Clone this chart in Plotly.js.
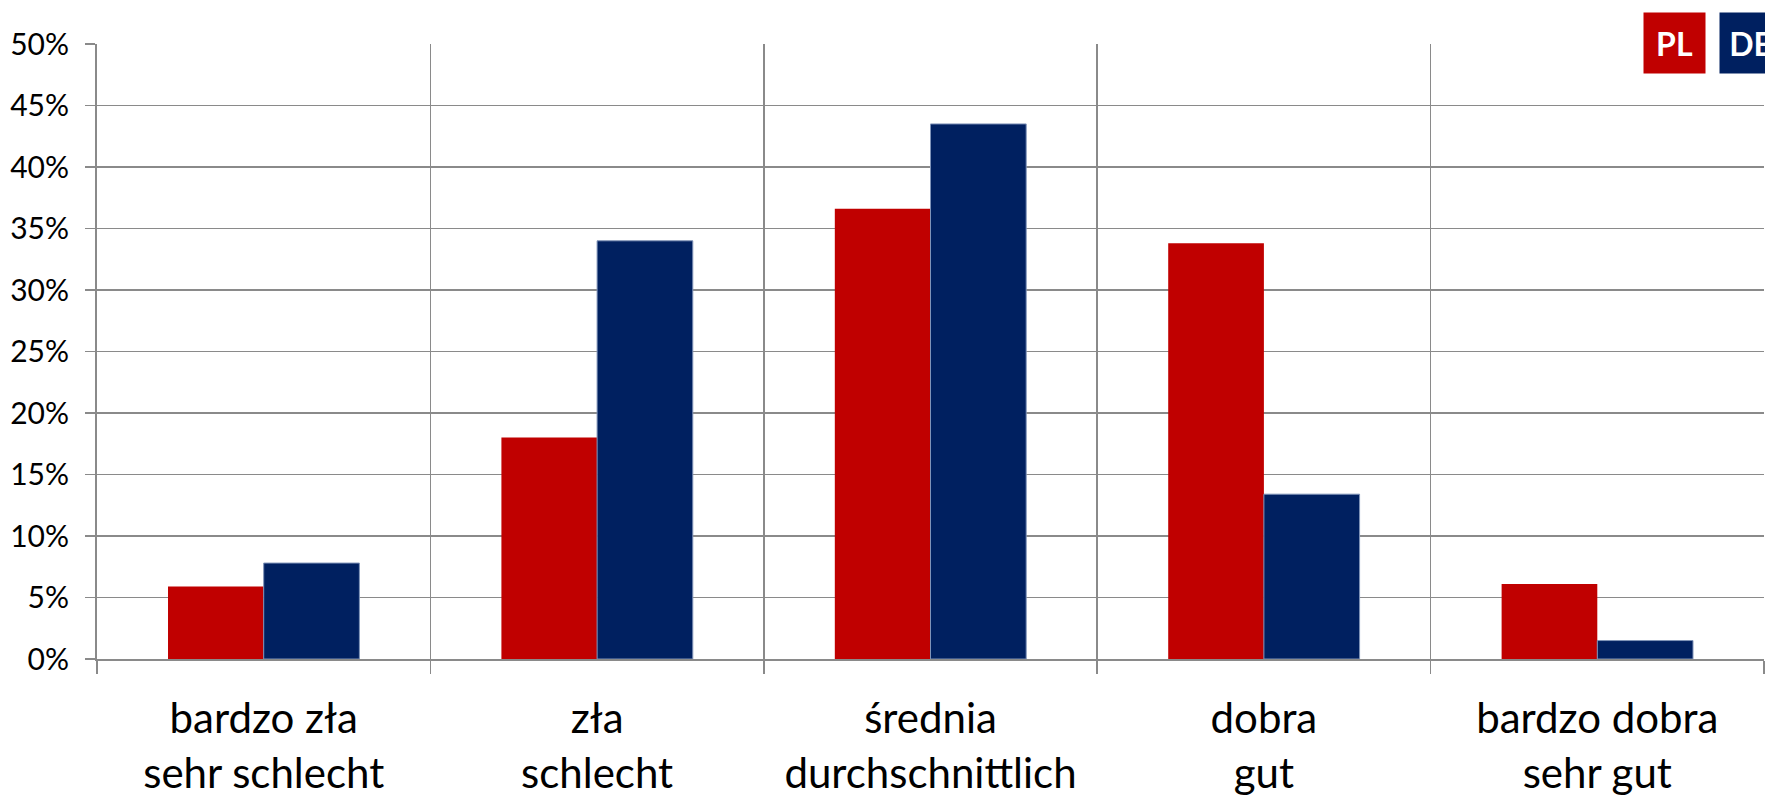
<!DOCTYPE html>
<html>
<head>
<meta charset="utf-8">
<script src="https://cdn.plot.ly/plotly-3.0.1.min.js"></script>
<style>html,body{margin:0;padding:0;background:#fff;}#chart{width:1765px;height:800px;}</style>
</head>
<body>
<div id="chart"></div>
<script>
const categories = ["bardzo zła<br>sehr schlecht", "zła<br>schlecht", "średnia<br>durchschnittlich", "dobra<br>gut", "bardzo dobra<br>sehr gut"];
const seriesNames = ["PL", "DE"];
const plValues = [5.9, 18.0, 36.6, 33.8, 6.1];
const deValues = [7.8, 34.0, 43.5, 13.4, 1.5];
const yTicks = [0, 5, 10, 15, 20, 25, 30, 35, 40, 45, 50];

const red = "#C00000", blue = "#002060";
const font = "Lato, 'Open Sans', sans-serif";

const traces = [
  {type: "bar", name: seriesNames[0], x: categories, y: plValues, marker: {color: red, line: {width: 0}}},
  {type: "bar", name: seriesNames[1], x: categories, y: deValues, marker: {color: blue, line: {color: "#7f93b8", width: 1}}}
];

const layout = {
  width: 1765, height: 800,
  margin: {l: 97, r: 1, t: 44, b: 141},
  paper_bgcolor: "#fff", plot_bgcolor: "#fff",
  barmode: "group", bargap: 0.426, bargroupgap: 0,
  showlegend: false,
  font: {family: font, color: "#000"},
  xaxis: {
    type: "category", range: [-0.5, 4.5], fixedrange: true,
    tickson: "boundaries", ticks: "outside", ticklen: 13, tickcolor: "#8a8a8a", tickwidth: 1.5,
    showgrid: true, gridcolor: "#8a8a8a", gridwidth: 1.5,
    showline: true, linecolor: "#8a8a8a", linewidth: 2,
    tickfont: {size: 42, family: font, color: "#000"},
    ticklabelstandoff: 22,
    zeroline: false
  },
  yaxis: {
    range: [0, 50], tickvals: yTicks, ticktext: yTicks.map(v => v + "%"),
    ticks: "outside", ticklen: 10, tickcolor: "#8a8a8a", tickwidth: 1.5,
    showgrid: true, gridcolor: "#8a8a8a", gridwidth: 1.5,
    showline: true, linecolor: "#8a8a8a", linewidth: 2,
    tickfont: {size: 30, family: font, color: "#000"},
    ticklabelstandoff: 10,
    zeroline: false, fixedrange: true
  },
  annotations: [
    {xref: "paper", yref: "paper", x: (1643 - 97) / 1667, y: 1 - (12 - 44) / 615, xanchor: "left", yanchor: "top",
     text: "<b>" + seriesNames[0] + "</b>", showarrow: false, bgcolor: red, width: 57, height: 56, borderpad: 2,
     font: {family: font, size: 32, color: "#fff"}},
    {xref: "paper", yref: "paper", x: (1719 - 97) / 1667, y: 1 - (12 - 44) / 615, xanchor: "left", yanchor: "top",
     text: "<b>" + seriesNames[1] + "</b>", showarrow: false, bgcolor: blue, width: 57, height: 56, borderpad: 2,
     font: {family: font, size: 32, color: "#fff"}}
  ]
};

Plotly.newPlot("chart", traces, layout, {staticPlot: true, displayModeBar: false});
</script>
</body>
</html>
